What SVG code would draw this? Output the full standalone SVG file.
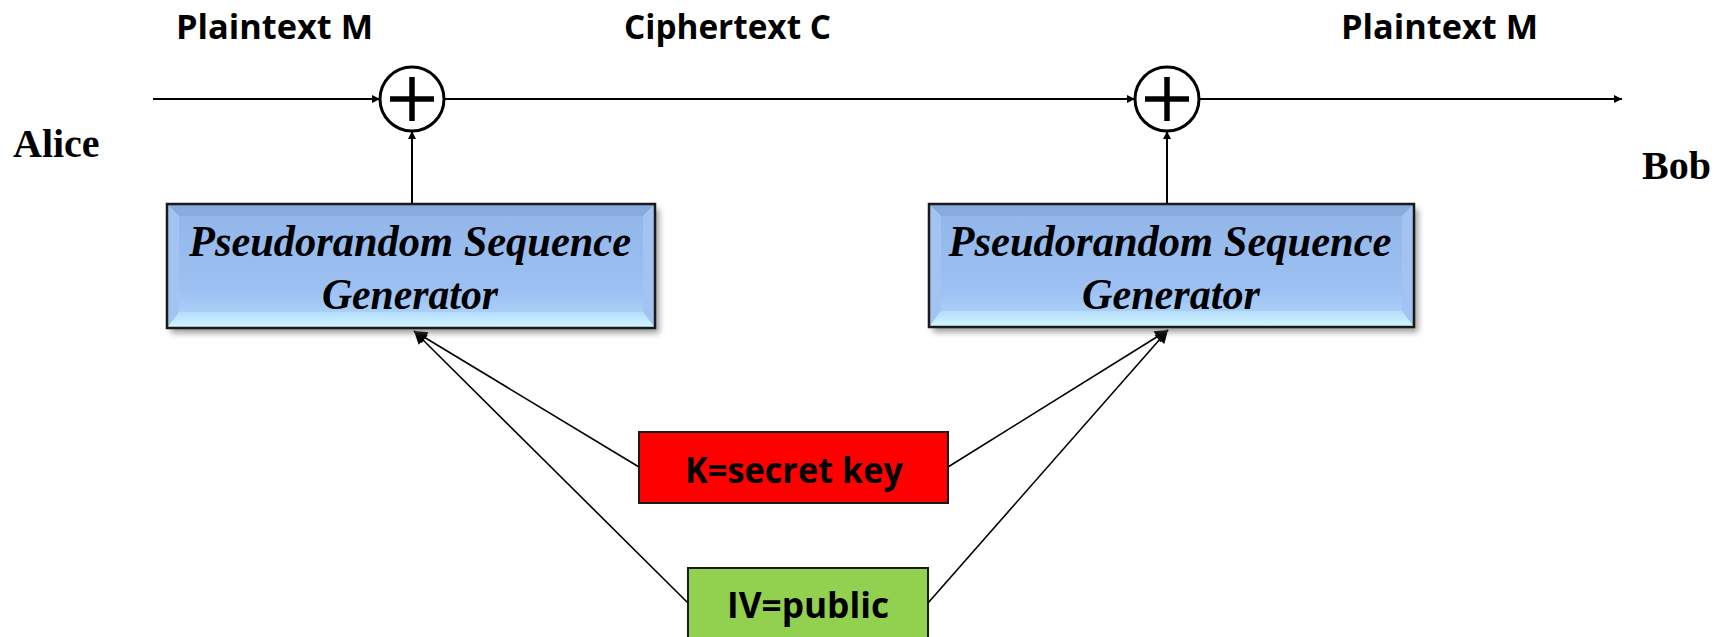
<svg xmlns="http://www.w3.org/2000/svg" width="1733" height="637" viewBox="0 0 1733 637">
  <defs>
    <style>
      .hdr { font-family: "Open Sans", "Liberation Sans", sans-serif; font-weight: 700; font-size: 34px; fill: #000; }
      .lbl { font-family: "Open Sans", "Liberation Sans", sans-serif; font-weight: 700; font-size: 36px; fill: #000; }
      .who { font-family: "Liberation Serif", "Times New Roman", serif; font-weight: 700; font-size: 40px; fill: #000; }
      .gen { font-family: "Liberation Serif", "Times New Roman", serif; font-weight: 700; font-style: italic; font-size: 45px; fill: #000; text-anchor: middle; }
      .wire { stroke: #000; stroke-width: 2; fill: none; }
      .thin { stroke: #000; stroke-width: 1.6; fill: none; }
      .xor { fill: #fff; stroke: #000; stroke-width: 3; }
      .plus { stroke: #000; stroke-width: 5.5; }
      .frame { stroke: #1a1a1a; stroke-width: 2.5; }
    </style>
    <marker id="arr" viewBox="0 0 10 10" refX="10" refY="5" markerWidth="10" markerHeight="8" markerUnits="userSpaceOnUse" orient="auto">
      <path d="M0,0 L10,5 L0,10 z" fill="#000"/>
    </marker>
    <marker id="arrBig" viewBox="0 0 10 10" refX="10" refY="5" markerWidth="17" markerHeight="13" markerUnits="userSpaceOnUse" orient="auto">
      <path d="M0,0 L10,5 L0,10 z" fill="#000"/>
    </marker>
    <linearGradient id="face" x1="0" y1="0" x2="0" y2="1">
      <stop offset="0" stop-color="#92b5e9"/>
      <stop offset="0.7" stop-color="#9dc1f2"/>
      <stop offset="1" stop-color="#b2d9fb"/>
    </linearGradient>
    <linearGradient id="bottomBevel" x1="0" y1="0" x2="0" y2="1">
      <stop offset="0" stop-color="#b4ddfc"/>
      <stop offset="1" stop-color="#d4f6ff"/>
    </linearGradient>
    <filter id="shadow" x="-10%" y="-20%" width="120%" height="150%">
      <feGaussianBlur stdDeviation="3"/>
    </filter>
  </defs>

  <rect width="1733" height="637" fill="#fff"/>

  <g id="labels">
    <text class="hdr" x="176" y="39" textLength="197" lengthAdjust="spacingAndGlyphs">Plaintext M</text>
    <text class="hdr" x="624" y="39" textLength="207" lengthAdjust="spacingAndGlyphs">Ciphertext C</text>
    <text class="hdr" x="1341" y="39" textLength="197" lengthAdjust="spacingAndGlyphs">Plaintext M</text>
    <text class="who" x="13" y="157">Alice</text>
    <text class="who" x="1642" y="179">Bob</text>
  </g>

  <g id="connectors">
    <line class="wire" x1="153" y1="99" x2="380" y2="99" marker-end="url(#arr)"/>
    <line class="wire" x1="444" y1="99" x2="1135" y2="99" marker-end="url(#arr)"/>
    <line class="wire" x1="1199" y1="99" x2="1622" y2="99" marker-end="url(#arr)"/>
    <line class="wire" x1="412" y1="204" x2="412" y2="131" marker-end="url(#arr)"/>
    <line class="wire" x1="1167" y1="204" x2="1167" y2="131" marker-end="url(#arr)"/>
    <line class="thin" x1="639" y1="467" x2="414" y2="331" marker-end="url(#arrBig)"/>
    <line class="thin" x1="688" y1="603" x2="414" y2="331" marker-end="url(#arrBig)"/>
    <line class="thin" x1="948" y1="467" x2="1168" y2="330" marker-end="url(#arrBig)"/>
    <line class="thin" x1="928" y1="603" x2="1168" y2="330" marker-end="url(#arrBig)"/>
  </g>

  <g id="xor1">
    <circle class="xor" cx="412" cy="99" r="32"/>
    <line class="plus" x1="390" y1="99" x2="434" y2="99"/>
    <line class="plus" x1="412" y1="77" x2="412" y2="121"/>
  </g>
  <g id="xor2">
    <circle class="xor" cx="1167" cy="99" r="32"/>
    <line class="plus" x1="1145" y1="99" x2="1189" y2="99"/>
    <line class="plus" x1="1167" y1="77" x2="1167" y2="121"/>
  </g>

  <g id="prng1">
    <rect x="171" y="209" width="488" height="124" fill="#555" opacity="0.6" filter="url(#shadow)"/>
    <rect x="167" y="204" width="488" height="124" fill="url(#face)"/>
    <polygon points="167,204 655,204 643,216 179,216" fill="#88aadc"/>
    <polygon points="167,204 179,216 179,312 167,328" fill="#a3c4f3"/>
    <polygon points="655,204 643,216 643,312 655,328" fill="#a3c4f3"/>
    <polygon points="167,328 179,312 643,312 655,328" fill="url(#bottomBevel)"/>
    <rect class="frame" x="167" y="204" width="488" height="124" fill="none"/>
    <text class="gen" x="410" y="256" textLength="442" lengthAdjust="spacingAndGlyphs">Pseudorandom Sequence</text>
    <text class="gen" x="410" y="309" textLength="176" lengthAdjust="spacingAndGlyphs">Generator</text>
  </g>

  <g id="prng2">
    <rect x="933" y="209" width="485" height="123" fill="#555" opacity="0.6" filter="url(#shadow)"/>
    <rect x="929" y="204" width="485" height="123" fill="url(#face)"/>
    <polygon points="929,204 1414,204 1402,216 941,216" fill="#88aadc"/>
    <polygon points="929,204 941,216 941,311 929,327" fill="#a3c4f3"/>
    <polygon points="1414,204 1402,216 1402,311 1414,327" fill="#a3c4f3"/>
    <polygon points="929,327 941,311 1402,311 1414,327" fill="url(#bottomBevel)"/>
    <rect class="frame" x="929" y="204" width="485" height="123" fill="none"/>
    <text class="gen" x="1170" y="256" textLength="443" lengthAdjust="spacingAndGlyphs">Pseudorandom Sequence</text>
    <text class="gen" x="1171" y="309" textLength="178" lengthAdjust="spacingAndGlyphs">Generator</text>
  </g>

  <g id="key">
    <rect x="639" y="432" width="309" height="71" fill="#ff0000" stroke="#1a1a1a" stroke-width="2"/>
    <text class="lbl" x="685" y="483" textLength="218" lengthAdjust="spacingAndGlyphs">K=secret key</text>
  </g>

  <g id="iv">
    <rect x="688" y="568" width="240" height="80" fill="#92d050" stroke="#1a1a1a" stroke-width="2"/>
    <text class="lbl" x="727" y="618" textLength="162" lengthAdjust="spacingAndGlyphs">IV=public</text>
  </g>
</svg>
